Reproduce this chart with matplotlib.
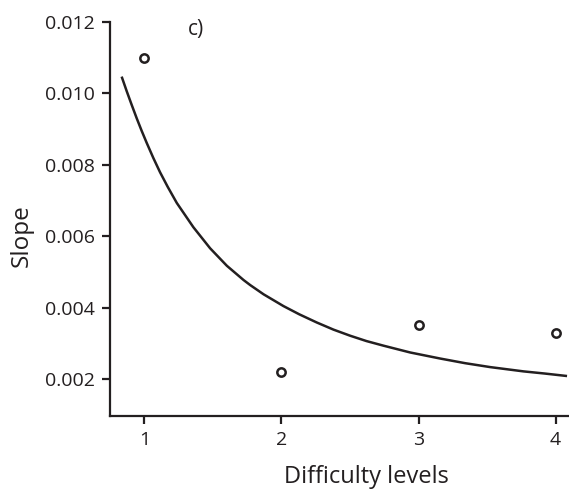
import matplotlib
matplotlib.use("Agg")
import matplotlib.pyplot as plt

# Data
levels = [1, 2, 3, 4]
slopes = [0.0110, 0.00218, 0.00350, 0.00328]

# fitted curve, points
curve_x = [0.835, 0.872, 0.908, 0.945, 0.981, 1.018, 1.066, 1.115, 1.171,
           1.237, 1.358, 1.480, 1.602, 1.724, 1.772, 1.870, 2.015, 2.130,
           2.258, 2.380, 2.501, 2.620, 2.745, 2.939, 3.158, 3.340, 3.523,
           3.766, 3.920, 4.083]
curve_y = [0.01047, 0.01006, 0.00968, 0.00930, 0.00895, 0.00861, 0.00819,
           0.00779, 0.00738, 0.00693, 0.00625, 0.00566, 0.00517, 0.00477,
           0.00463, 0.00437, 0.00404, 0.00381, 0.00358, 0.00338, 0.00321,
           0.00306, 0.00293, 0.00274, 0.00257, 0.00244, 0.00233, 0.00221,
           0.00215, 0.00208]

xticks = [1, 2, 3, 4]
yticks = [0.002, 0.004, 0.006, 0.008, 0.010, 0.012]
ytick_labels = ["0.002", "0.004", "0.006", "0.008", "0.010", "0.012"]

col = "#231f20"
plt.rcParams['font.family'] = ['Open Sans', 'DejaVu Sans']

fig = plt.figure(figsize=(5.69, 4.97), dpi=100)
ax = fig.add_axes([110/569, 1 - 416/497, 458/569, 394/497])

ax.plot(curve_x, curve_y, color=col, lw=1.8, solid_capstyle='butt',
        solid_joinstyle='round')
ax.plot(levels, slopes, 'o', ms=6, mfc='white', mec=col, mew=1.8)

ax.set_xlim(0.75, 4.09)
ax.set_ylim(0.00096, 0.012)
ax.set_xticks(xticks)
ax.set_xticklabels([str(t) for t in xticks])
ax.set_yticks(yticks)
ax.set_yticklabels(ytick_labels)

for s in ['top', 'right']:
    ax.spines[s].set_visible(False)
for s in ['left', 'bottom']:
    ax.spines[s].set_linewidth(1.6)
    ax.spines[s].set_color(col)

ax.tick_params(axis='both', direction='out', length=6, width=1.6, color=col,
               labelsize=14, labelcolor=col, pad=5)

ax.set_xlabel("Difficulty levels", fontsize=17, color=col)
ax.set_ylabel("Slope", fontsize=17.5, color=col)
ax.xaxis.set_label_coords(0.560, -0.155)
ax.yaxis.set_label_coords(-0.192, 0.459)
ax.xaxis.label.set_va('center')
ax.yaxis.label.set_va('center')

ax.text(196/569, 1 - 29/497, "c)", transform=fig.transFigure, fontsize=15,
        color=col, ha='center', va='center')

fig.savefig("out.png", dpi=100)
